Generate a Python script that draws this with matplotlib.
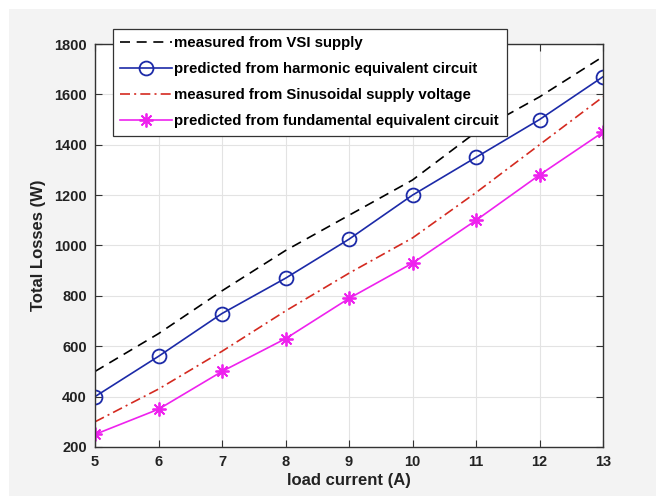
import numpy as np
import matplotlib.pyplot as plt
from matplotlib.patches import Rectangle

# load current steps (A)
current = [5, 6, 7, 8, 9, 10, 11, 12, 13]

# total losses (W) for each case
vsi_measured = [500, 650, 820, 980, 1120, 1260, 1450, 1590, 1750]
harmonic_pred = [400, 560, 730, 870, 1025, 1200, 1350, 1500, 1670]
sine_measured = [300, 430, 580, 740, 890, 1030, 1210, 1400, 1590]
fundamental_pred = [250, 350, 500, 630, 790, 930, 1100, 1280, 1450]

labels = [
    "measured from VSI supply",
    "predicted from harmonic equivalent circuit",
    "measured from Sinusoidal supply voltage",
    "predicted from fundamental equivalent circuit",
]

plt.rcParams["font.family"] = ["Liberation Sans", "DejaVu Sans"]
plt.rcParams["font.weight"] = "bold"

fig = plt.figure(figsize=(6.56, 4.96), dpi=100, facecolor="white")
# grey panel behind the axes, thin white strip on the top and left
fig.patches.append(Rectangle((9 / 656, 0), 1, 1 - 9 / 496, transform=fig.transFigure,
                             facecolor="#f3f3f3", edgecolor="none", zorder=-10))

ax = fig.add_axes([95 / 656, 1 - 447 / 496, 508 / 656, 403 / 496])
ax.set_facecolor("white")

ax.plot(current, vsi_measured, color="black", lw=1.2, dashes=(6, 4), label=labels[0])
ax.plot(current, harmonic_pred, color="#1c2aa8", lw=1.2, marker="o", ms=10,
        mfc="none", mew=1.3, label=labels[1])
ax.plot(current, sine_measured, color="#d42a20", lw=1.2, dashes=(6, 2.5, 1.2, 2.5),
        label=labels[2])
ax.plot(current, fundamental_pred, color="#ee22ee", lw=1.2, marker=(8, 2, 0), ms=10,
        mew=1.3, label=labels[3])

ax.set_xlim(5, 13)
ax.set_ylim(200, 1800)
ax.set_xticks(np.arange(5, 14, 1))
ax.set_yticks(np.arange(200, 1801, 200))

ax.grid(True, color="#e3e3e3", lw=0.8)
ax.set_axisbelow(True)
ax.tick_params(direction="in", top=True, right=True, length=5, width=0.8,
               color="#333333", labelsize=10.5, labelcolor="#222222", pad=6)
for lab in ax.get_xticklabels() + ax.get_yticklabels():
    lab.set_fontweight("bold")
for sp in ax.spines.values():
    sp.set_color("#333333")
    sp.set_linewidth(1.0)

ax.set_xlabel("load current (A)", fontsize=12, fontweight="bold", color="#222222",
              labelpad=3)
ax.set_ylabel("Total Losses (W)", fontsize=12, fontweight="bold", color="#222222",
              labelpad=6)

leg = ax.legend(loc="upper left", bbox_to_anchor=(113 / 656, 1 - 29 / 496),
                bbox_transform=fig.transFigure, borderaxespad=0, fancybox=False,
                framealpha=1, edgecolor="#333333", handlelength=3.4,
                handletextpad=0.2, labelspacing=0.8, borderpad=0.5,
                prop={"size": 10.8, "weight": "bold"})
leg.get_frame().set_linewidth(0.9)
leg.set_zorder(5)

fig.savefig("out.png", dpi=100, facecolor=fig.get_facecolor())
